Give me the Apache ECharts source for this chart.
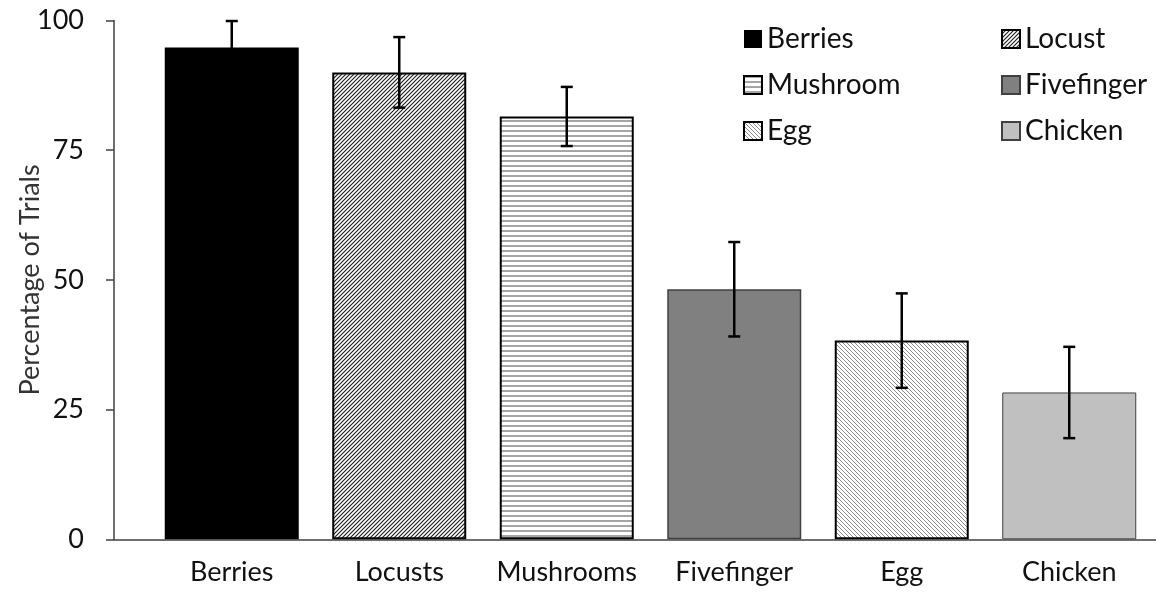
<!DOCTYPE html>
<html>
<head>
<meta charset="utf-8">
<script src="https://cdn.jsdelivr.net/npm/echarts@6/dist/echarts.min.js"></script>
<style>
html,body{margin:0;padding:0;background:#fff;}
#chart{width:1156px;height:602px;}
</style>
</head>
<body>
<div id="chart"></div>
<script>
// ---- data ----
var categories = ['Berries', 'Locusts', 'Mushrooms', 'Fivefinger', 'Egg', 'Chicken'];
var legendNames = ['Berries', 'Locust', 'Mushroom', 'Fivefinger', 'Egg', 'Chicken'];
var means = [94.8, 90.0, 81.5, 48.2, 38.3, 28.3];
var errors = [5.1, 6.8, 5.7, 9.1, 9.1, 8.8];
var yTicks = [0, 25, 50, 75, 100];

// ---- patterns ----
function makePattern(w, h, draw) {
  var c = document.createElement('canvas');
  c.width = w; c.height = h;
  var ctx = c.getContext('2d');
  ctx.fillStyle = '#fff';
  ctx.fillRect(0, 0, w, h);
  draw(ctx, w, h);
  return { image: c, repeat: 'repeat' };
}
var upDiag = makePattern(4, 4, function (ctx, w, h) {
  ctx.strokeStyle = '#222'; ctx.lineWidth = 1.2;
  ctx.beginPath();
  ctx.moveTo(0, h); ctx.lineTo(w, 0);
  ctx.moveTo(-1, 1); ctx.lineTo(1, -1);
  ctx.moveTo(w - 1, h + 1); ctx.lineTo(w + 1, h - 1);
  ctx.stroke();
});
var downDiag = makePattern(4, 4, function (ctx, w, h) {
  ctx.strokeStyle = '#8a8a8a'; ctx.lineWidth = 1;
  ctx.beginPath();
  ctx.moveTo(0, 0); ctx.lineTo(w, h);
  ctx.moveTo(-1, h - 1); ctx.lineTo(1, h + 1);
  ctx.moveTo(w - 1, -1); ctx.lineTo(w + 1, 1);
  ctx.stroke();
});
var horiz = makePattern(4, 5, function (ctx, w, h) {
  ctx.fillStyle = '#a6a6a6';
  ctx.fillRect(0, 0, w, 2);
});

var styles = [
  { color: '#000000', borderColor: '#000000', borderWidth: 0 },
  { color: upDiag, borderColor: '#000000', borderWidth: 2 },
  { color: horiz, borderColor: '#000000', borderWidth: 2 },
  { color: '#808080', borderColor: '#404040', borderWidth: 1.5 },
  { color: downDiag, borderColor: '#000000', borderWidth: 2 },
  { color: '#c0c0c0', borderColor: '#404040', borderWidth: 1 }
];

var FONT = 'Lato';
var TOP = 20.5, BOTTOM = 62.7;

var series = categories.map(function (c, i) {
  return {
    name: legendNames[i],
    type: 'bar',
    stack: 'all',
    xAxisIndex: 0, yAxisIndex: 0,
    barCategoryGap: '20%',
    itemStyle: styles[i],
    data: categories.map(function (cc, j) { return j === i ? means[j] : '-'; }),
    z: 2
  };
});

series.push({
  type: 'custom',
  name: 'err',
  xAxisIndex: 0, yAxisIndex: 0,
  z: 5,
  data: means.map(function (m, i) { return [i, m, errors[i]]; }),
  encode: { x: 0, y: 1 },
  renderItem: function (params, api) {
    var x = api.value(0), m = api.value(1), e = api.value(2);
    var top = api.coord([x, m + e]);
    var bot = api.coord([x, m - e]);
    var hw = 6;
    var st = { stroke: '#000', lineWidth: 2.5 };
    return {
      type: 'group',
      children: [
        { type: 'line', shape: { x1: top[0], y1: top[1], x2: bot[0], y2: bot[1] }, style: st },
        { type: 'line', shape: { x1: top[0] - hw, y1: top[1], x2: top[0] + hw, y2: top[1] }, style: st },
        { type: 'line', shape: { x1: bot[0] - hw, y1: bot[1], x2: bot[0] + hw, y2: bot[1] }, style: st }
      ]
    };
  }
});

var legendBase = {
  orient: 'vertical',
  top: 20,
  itemWidth: 18,
  itemHeight: 18,
  itemGap: 18,
  icon: 'rect',
  textStyle: { fontFamily: FONT, fontSize: 28, color: '#111' }
};

var option = {
  animation: false,
  backgroundColor: '#fff',
  grid: [
    { left: 148, right: 3, top: TOP, bottom: BOTTOM, outerBoundsMode: 'none', containLabel: false },
    { left: 114, right: 0, top: TOP, bottom: BOTTOM, outerBoundsMode: 'none', containLabel: false }
  ],
  legend: [
    Object.assign({}, legendBase, { left: 738, data: [legendNames[0], legendNames[2], legendNames[4]] }),
    Object.assign({}, legendBase, { left: 996, data: [legendNames[1], legendNames[3], legendNames[5]] })
  ],
  xAxis: [
    {
      type: 'category', gridIndex: 0, data: categories,
      axisLine: { show: false }, axisTick: { show: false },
      axisLabel: { interval: 0, fontFamily: FONT, fontSize: 27, color: '#111', margin: 19, lineHeight: 27 }
    },
    {
      type: 'value', gridIndex: 1, min: 0, max: 1,
      axisLine: { show: true, lineStyle: { color: '#404040', width: 1.5 } },
      axisTick: { show: false }, axisLabel: { show: false }, splitLine: { show: false }
    }
  ],
  yAxis: [
    { type: 'value', gridIndex: 0, min: 0, max: 100, show: false, splitLine: { show: false } },
    {
      type: 'value', gridIndex: 1, min: yTicks[0], max: yTicks[yTicks.length - 1], interval: 25,
      name: 'Percentage of Trials', nameLocation: 'middle', nameGap: 70, nameMoveOverlap: false,
      nameTextStyle: { fontFamily: FONT, fontSize: 27, color: '#333' },
      axisLine: { show: true, lineStyle: { color: '#404040', width: 1.5 } },
      axisTick: { show: true, length: 8, lineStyle: { color: '#404040', width: 1.5 } },
      axisLabel: { fontFamily: FONT, fontSize: 27, color: '#111', margin: 30 },
      splitLine: { show: false }
    }
  ],
  series: series
};

var chart = echarts.init(document.getElementById('chart'), null, { renderer: 'canvas' });
chart.setOption(option);
</script>
</body>
</html>
